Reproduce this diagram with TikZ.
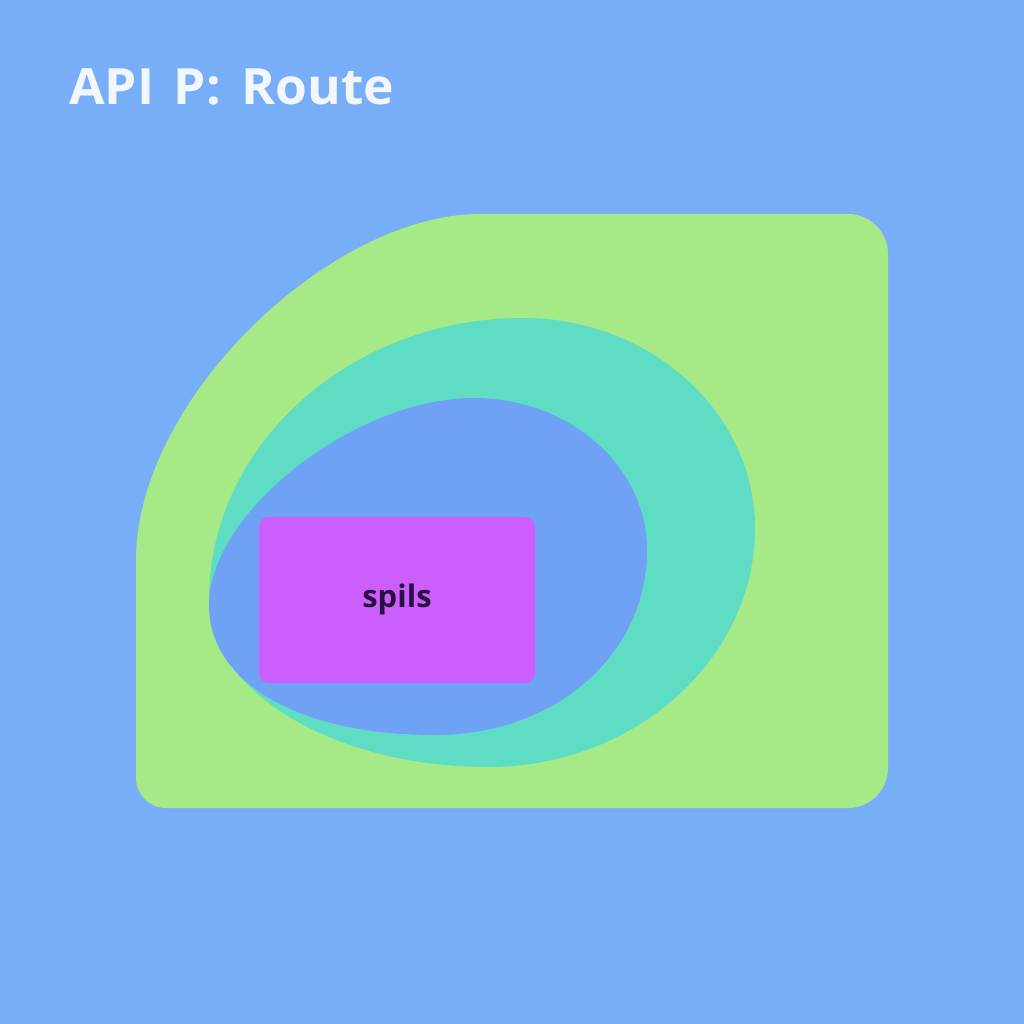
\documentclass[tikz,border=0pt]{standalone}
\usepackage{fontspec}
\setmainfont{Open Sans}
\definecolor{bgblue}{HTML}{78AEF8}
\definecolor{greenfill}{HTML}{A6E987}
\definecolor{tealfill}{HTML}{5EDDC4}
\definecolor{innerblue}{HTML}{6FA2F5}
\definecolor{purplefill}{HTML}{CB5EFD}
\definecolor{titlecol}{HTML}{F2F6FF}
\definecolor{labelcol}{HTML}{2A1040}
\begin{document}
\begin{tikzpicture}[x=1pt,y=-1pt,
  regionbox/.style={fill=purplefill,draw=none,rounded corners=10pt}]
\fill[bgblue] (0,0) rectangle (1024,1024);
\useasboundingbox (0,0) rectangle (1024,1024);
% green region
\fill[greenfill] (166,808) -- (848,808) arc[start angle=90,end angle=0,radius=40] -- (888,254)
  arc[start angle=0,end angle=-90,radius=40] -- (480,214)
  .. controls (330,214) and (136,400) .. (136,560) -- (136,778)
  arc[start angle=180,end angle=90,radius=30] -- cycle;
% teal ellipse
\fill[tealfill] (523,318)
  .. controls (651,318) and (755,413) .. (755,528)
  .. controls (755,659) and (635,767) .. (488,767)
  .. controls (335,767) and (209,692) .. (209,600)
  .. controls (209,445) and (350,318) .. (523,318) -- cycle;
% inner blue
\fill[innerblue] (474,398)
  .. controls (569,398) and (647,466) .. (647,550)
  .. controls (647,655) and (555,735) .. (435,735)
  .. controls (299,735) and (209,683) .. (209,605)
  .. controls (209,512) and (355,398) .. (474,398) -- cycle;
% purple box
\node[regionbox,minimum width=276pt,minimum height=166pt,inner sep=0pt] (box) at (397,600) {};
\node[anchor=base,text=labelcol,font=\bfseries\fontsize{31}{36}\selectfont,inner sep=0pt] (lbl) at (397,607) {spils};
\node[anchor=base west,text=titlecol,font=\bfseries\fontsize{50}{58}\selectfont,inner sep=0pt] (title) at (69,105) {\scalebox{1.03}[1]{API\hspace{19pt}P:\hspace{20pt}Route}};
\end{tikzpicture}
\end{document}
